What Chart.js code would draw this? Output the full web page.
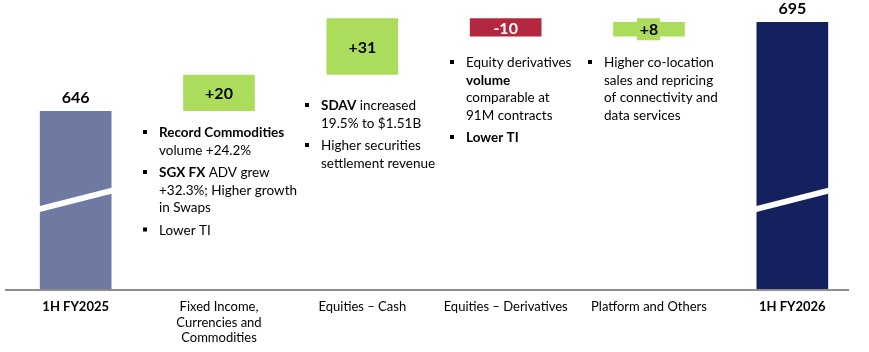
<!DOCTYPE html>
<html>
<head>
<meta charset="utf-8">
<script src="https://cdn.jsdelivr.net/npm/chart.js@4.4.1/dist/chart.umd.min.js"></script>
<style>
  html, body { margin: 0; padding: 0; background: #fff; }
  #wrap { width: 869px; height: 352px; }
</style>
</head>
<body>
<div id="wrap"><canvas id="c"></canvas></div>
<script>
// Revenue bridge 1H FY2025 -> 1H FY2026 (waterfall with broken axis)
const categories = [
  ["1H FY2025"],
  ["Fixed Income,", "Currencies and", "Commodities"],
  ["Equities \u2013 Cash"],
  ["Equities \u2013 Derivatives"],
  ["Platform and Others"],
  ["1H FY2026"],
];
const startValue = 646;
const deltas = [20, 31, -10, 8];
const endValue = 695;
const deltaLabels = ["+20", "+31", "-10", "+8"];

// axis is broken: it starts well above zero
const axisMin = 547.6;
const axisMax = 707.1;
// white diagonal "break" band drawn across the two total bars
const breakLow = 592;
const breakHigh = 602.3;

// commentary next to each movement; each line is a list of [text, bold]
const notes = [
  { x: 145, y: 133, lines: [
    { bullet: true, runs: [["Record Commodities", true]] },
    { runs: [["volume +24.2%", false]] },
    { bullet: true, gap: true, runs: [["SGX FX", true], [" ADV grew", false]] },
    { runs: [["+32.3%; Higher growth", false]] },
    { runs: [["in Swaps", false]] },
    { bullet: true, gap: true, runs: [["Lower TI", false]] },
  ]},
  { x: 307, y: 106, lines: [
    { bullet: true, runs: [["SDAV", true], [" increased", false]] },
    { runs: [["19.5% to $1.51B", false]] },
    { bullet: true, gap: true, runs: [["Higher securities", false]] },
    { runs: [["settlement revenue", false]] },
  ]},
  { x: 452, y: 63, lines: [
    { bullet: true, runs: [["Equity derivatives", false]] },
    { runs: [["volume", true]] },
    { runs: [["comparable at", false]] },
    { runs: [["91M contracts", false]] },
    { bullet: true, gap: true, runs: [["Lower TI", true]] },
  ]},
  { x: 590, y: 63, lines: [
    { bullet: true, runs: [["Higher co-location", false]] },
    { runs: [["sales and repricing", false]] },
    { runs: [["of connectivity and", false]] },
    { runs: [["data services", false]] },
  ]},
];

const FONT = "Lato, 'Open Sans', sans-serif";
const COL_START = "#6e7aa2";
const COL_END = "#15215f";
const COL_UP = "#acdc5c";
const COL_DOWN = "#b3283f";

// build floating bars
const ranges = [[axisMin, startValue]];
const colors = [COL_START];
let run = startValue;
deltas.forEach((d) => {
  ranges.push([run, run + d]);
  colors.push(d >= 0 ? COL_UP : COL_DOWN);
  run += d;
});
ranges.push([axisMin, endValue]);
colors.push(COL_END);

const overlay = {
  id: "overlay",
  afterDatasetsDraw(chart) {
    const { ctx, chartArea, scales } = chart;
    const meta = chart.getDatasetMeta(0);
    const y = scales.y;

    // axis line
    ctx.save();
    ctx.strokeStyle = "#8d8d8d";
    ctx.lineWidth = 2;
    ctx.beginPath();
    ctx.moveTo(chartArea.left + 1, chartArea.bottom);
    ctx.lineTo(chartArea.right - 15, chartArea.bottom);
    ctx.stroke();

    // break bands on total bars
    [0, meta.data.length - 1].forEach((i) => {
      const b = meta.data[i];
      const l = b.x - b.width / 2 - 1, r = b.x + b.width / 2 + 1;
      const yl = y.getPixelForValue(breakLow), yr = y.getPixelForValue(breakHigh);
      ctx.fillStyle = "#fff";
      ctx.beginPath();
      ctx.moveTo(l, yl - 3);
      ctx.lineTo(r, yr - 3);
      ctx.lineTo(r, yr + 3);
      ctx.lineTo(l, yl + 3);
      ctx.closePath();
      ctx.fill();
    });

    // total labels
    ctx.font = `bold 16px ${FONT}`;
    ctx.textAlign = "center";
    ctx.textBaseline = "middle";
    ctx.fillStyle = "#000";
    [0, meta.data.length - 1].forEach((i) => {
      const b = meta.data[i];
      const v = i === 0 ? startValue : endValue;
      ctx.fillText(String(v), b.x, b.y - 13);
    });

    // delta labels
    deltas.forEach((d, k) => {
      const b = meta.data[k + 1];
      const cy = (b.y + b.base) / 2;
      if (Math.abs(b.base - b.y) < 18) {
        ctx.fillStyle = colors[k + 1];
        ctx.fillRect(b.x - 12, cy - 11, 23, 22);
      }
      ctx.fillStyle = d >= 0 ? "#000" : "#fff";
      ctx.fillText(deltaLabels[k], b.x, cy + 1);
    });

    // commentary
    ctx.textAlign = "left";
    const lh = 17.5;
    notes.forEach((n) => {
      let yy = n.y;
      n.lines.forEach((ln, li) => {
        if (li > 0) yy += ln.gap ? lh + 5 : lh;
        if (ln.bullet) {
          ctx.fillStyle = "#000";
          ctx.fillRect(n.x - 2, yy - 3, 4, 4);
        }
        let xx = n.x + 14;
        ln.runs.forEach(([t, bold]) => {
          ctx.font = `${bold ? "bold " : ""}13.5px ${FONT}`;
          ctx.fillStyle = "#000";
          ctx.fillText(t, xx, yy);
          xx += ctx.measureText(t).width;
        });
      });
    });
    ctx.restore();
  },
};

new Chart(document.getElementById("c"), {
  type: "bar",
  data: {
    labels: categories,
    datasets: [{
      data: ranges,
      backgroundColor: colors,
      borderWidth: 0,
      borderSkipped: false,
      barPercentage: 1,
      categoryPercentage: 0.5,
    }],
  },
  options: {
    responsive: true,
    maintainAspectRatio: false,
    devicePixelRatio: 1,
    animation: false,
    layout: { padding: { left: 4, right: 5, top: 0, bottom: 0 } },
    plugins: { legend: { display: false }, tooltip: { enabled: false } },
    scales: {
      x: {
        grid: { display: false, drawTicks: false },
        border: { display: false },
        afterFit: (s) => { s.height = 62; },
        ticks: {
          color: "#000",
          padding: 9,
          maxRotation: 0,
          autoSkip: false,
          font: (c) => ({
            family: FONT,
            size: 13,
            lineHeight: 1.2,
            weight: c.index === 0 || c.index === categories.length - 1 ? "bold" : "normal",
          }),
        },
      },
      y: { display: false, min: axisMin, max: axisMax },
    },
  },
  plugins: [overlay],
});
</script>
</body>
</html>
